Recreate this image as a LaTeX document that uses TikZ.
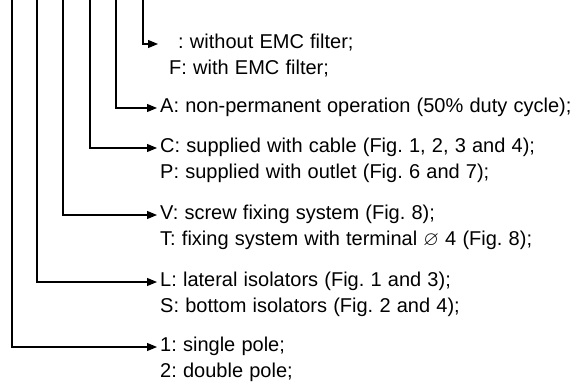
\documentclass[tikz,border=0pt]{standalone}
\usepackage{amssymb}
\usepackage{fontspec}
\setmainfont{Liberation Sans}
\usetikzlibrary{arrows.meta,positioning}
\frenchspacing
\newcommand\codefont{\fontsize{20}{24}\selectfont\spaceskip=6.2pt\relax}

\begin{document}
\begin{tikzpicture}[x=1pt,y=-1pt]
  \tikzset{
    code/.style={anchor=west, inner xsep=3pt, inner ysep=0pt, text height=14pt, text depth=5pt, font=\codefont},
    more/.style={code, below right=7pt and 0pt of #1.south west},
    lead/.style={line width=1.1pt, -{Triangle[length=10pt,width=8pt]}}
  }
  \useasboundingbox (0,0) rectangle (573,385);
  % top ends of the code positions
  \coordinate (p1) at (12,0);
  \coordinate (p2) at (37,0);
  \coordinate (p3) at (63,0);
  \coordinate (p4) at (90,0);
  \coordinate (p5) at (116,0);
  \coordinate (p6) at (143,0);
  % meanings
  \node[code] (emc) at (158,44) {\hspace*{17pt}: without EMC filter;};
  \node[more=emc, xshift=8pt] (emcf) {F: with EMC filter;};
  \node[code] (duty) at (157,108) {A: non-permanent operation (50\% duty cycle);};
  \node[code] (cable) at (157,148) {C: supplied with cable (Fig. 1, 2, 3 and 4);};
  \node[more=cable] (outlet) {P: supplied with outlet (Fig. 6 and 7);};
  \node[code] (screw) at (157,215) {V: screw fixing system (Fig. 8);};
  \node[more=screw] (terminal) {T: fixing system with terminal $\varnothing$ 4 (Fig. 8);};
  \node[code] (lateral) at (157,282) {L: lateral isolators (Fig. 1 and 3);};
  \node[more=lateral] (bottom) {S: bottom isolators (Fig. 2 and 4);};
  \node[code] (single) at (157,347) {1: single pole;};
  \node[more=single] (double) {2: double pole;};
  % leaders
  \draw[lead] (p6) |- (emc);
  \draw[lead] (p5) |- (duty);
  \draw[lead] (p4) |- (cable);
  \draw[lead] (p3) |- (screw);
  \draw[lead] (p2) |- (lateral);
  \draw[lead] (p1) |- (single);
\end{tikzpicture}
\end{document}
